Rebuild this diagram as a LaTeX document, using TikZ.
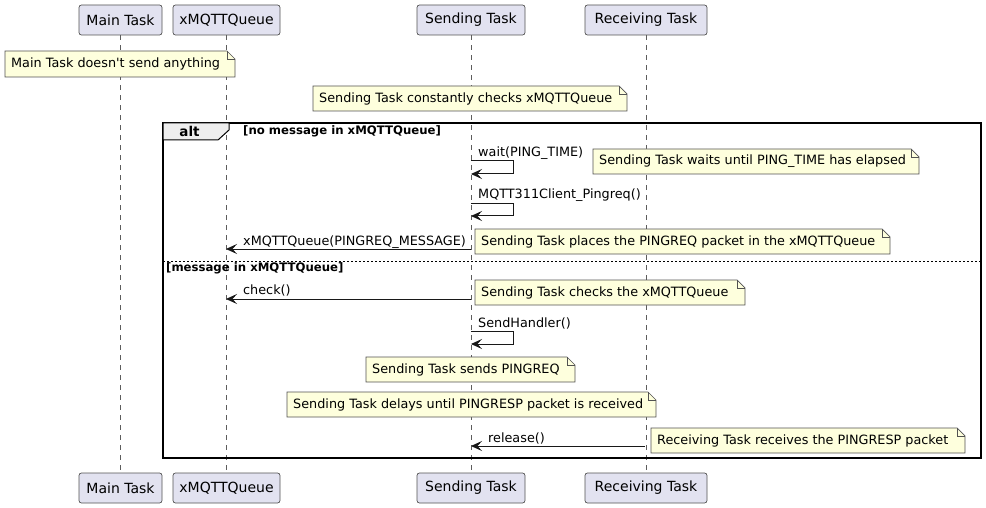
\documentclass[tikz,border=0pt]{standalone}
\usepackage{fontspec}
\setmainfont{DejaVu Sans}[Ligatures=TeXOff]
\usetikzlibrary{arrows.meta}
\definecolor{partfill}{HTML}{E2E2F0}
\definecolor{notefill}{HTML}{FEFFDD}
\definecolor{lineclr}{HTML}{181818}
\definecolor{tabfill}{HTML}{EEEEEE}
\tikzset{
  part/.style={draw=lineclr!75, fill=partfill, rounded corners=2.5pt, line width=0.7pt,
    minimum height=30pt, inner sep=0pt, font=\fontsize{14}{16}\selectfont},
  life/.style={draw=lineclr!70, dash pattern=on 5pt off 5pt, line width=0.7pt},
  msg/.style={draw=lineclr, line width=1pt, -{Stealth[length=11pt,width=10pt,inset=4.5pt]}},
  msgtext/.style={anchor=base west, inner sep=0pt, font=\fontsize{12.8}{15}\selectfont},
  notetext/.style={anchor=west, inner sep=0pt, font=\fontsize{12.8}{15}\selectfont},
  notedraw/.style={draw=lineclr!75, line width=0.7pt},
  guard/.style={anchor=west, inner sep=0pt, font=\fontsize{11.7}{13}\selectfont\bfseries},
}
\newcommand\notebox[6]{%
  \fill[notefill] (#2,#3) -- ({#4-8},#3) -- (#4,{#3+8}) -- (#4,#5) -- (#2,#5) -- cycle;
  \draw[notedraw] (#2,#3) -- ({#4-8},#3) -- (#4,{#3+8}) -- (#4,#5) -- (#2,#5) -- cycle;
  \draw[notedraw] ({#4-8},#3) -- ({#4-8},{#3+8}) -- (#4,{#3+8});
  \node[notetext] (#1) at ({#2+6},{(#3+#5)/2}) {#6};
}
\begin{document}
\begin{tikzpicture}[x=1pt,y=-1pt]
\useasboundingbox (0,0) rectangle (986,508);
% participants
\node[part, minimum width=83pt] (mainT) at (120.5,20) {Main Task};
\node[part, minimum width=107pt] (queueT) at (226.5,20) {xMQTTQueue};
\node[part, minimum width=108pt] (sendT) at (471,20) {Sending Task};
\node[part, minimum width=122pt] (recvT) at (646,20) {Receiving Task};
\node[part, minimum width=83pt] (mainB) at (120.5,488) {Main Task};
\node[part, minimum width=107pt] (queueB) at (226.5,488) {xMQTTQueue};
\node[part, minimum width=108pt] (sendB) at (471,488) {Sending Task};
\node[part, minimum width=122pt] (recvB) at (646,488) {Receiving Task};
\draw[life] (mainT) -- (mainB);
\draw[life] (queueT) -- (queueB);
\draw[life] (sendT) -- (sendB);
\draw[life] (recvT) -- (recvB);
% notes
\notebox{n1}{5}{51}{235}{77}{Main Task doesn't send anything}
\notebox{n2}{313}{86}{627}{111}{Sending Task constantly checks xMQTTQueue}
% alt frame
\draw[line width=1.5pt, draw=black] (163,123) rectangle (981,458);
\filldraw[fill=tabfill, draw=black, line width=1pt] (163,123) -- (229,123) -- (229,130) -- (218,140) -- (163,140) -- cycle;
\node[anchor=center, inner sep=0pt, font=\fontsize{13.5}{15}\selectfont\bfseries] (altlbl) at (189.5,131.5) {alt};
\node[guard] (g1) at (243,131.5) {[no message in xMQTTQueue]};
\draw[draw=black, line width=1pt, dash pattern=on 2pt off 2pt] (163,261) -- (981,261);
\node[guard] (g2) at (166,268.5) {[message in xMQTTQueue]};
% wait
\coordinate (w1) at (471,161); \coordinate (w2) at (513,161);
\coordinate (w3) at (513,174); \coordinate (w4) at (471,174);
\draw[msg] (w1) -- (w2) -- (w3) -- (w4);
\node[msgtext] (wt) at (478,157) {wait(PING\_TIME)};
\notebox{n3}{593}{149}{919}{174}{Sending Task waits until PING\_TIME has elapsed}
% pingreq
\coordinate (p1) at (471,204); \coordinate (p2) at (513,204);
\coordinate (p3) at (513,216); \coordinate (p4) at (471,216);
\draw[msg] (p1) -- (p2) -- (p3) -- (p4);
\node[msgtext] (pt) at (478,199) {MQTT311Client\_Pingreq()};
% queue message
\coordinate (q1) at (471,249); \coordinate (q2) at (226,249);
\draw[msg] (q1) -- (q2);
\node[msgtext] (qt) at (243,245) {xMQTTQueue(PINGREQ\_MESSAGE)};
\notebox{n4}{475}{229}{890}{254}{Sending Task places the PINGREQ packet in the xMQTTQueue}
% check
\coordinate (c1) at (471,299); \coordinate (c2) at (226,299);
\draw[msg] (c1) -- (c2);
\node[msgtext] (ct) at (243,294) {check()};
\notebox{n5}{475}{280}{745}{305}{Sending Task checks the xMQTTQueue}
% sendhandler
\coordinate (s1) at (471,331); \coordinate (s2) at (513,331);
\coordinate (s3) at (513,344); \coordinate (s4) at (471,344);
\draw[msg] (s1) -- (s2) -- (s3) -- (s4);
\node[msgtext] (st) at (478,327) {SendHandler()};
\notebox{n6}{366}{357}{575}{382}{Sending Task sends PINGREQ}
\notebox{n7}{287}{392}{656}{417}{Sending Task delays until PINGRESP packet is received}
% release
\coordinate (r1) at (645,446); \coordinate (r2) at (471,446);
\draw[msg] (r1) -- (r2);
\node[msgtext] (rt) at (488,442) {release()};
\notebox{n8}{651}{428}{965}{453}{Receiving Task receives the PINGRESP packet}
\end{tikzpicture}
\end{document}
